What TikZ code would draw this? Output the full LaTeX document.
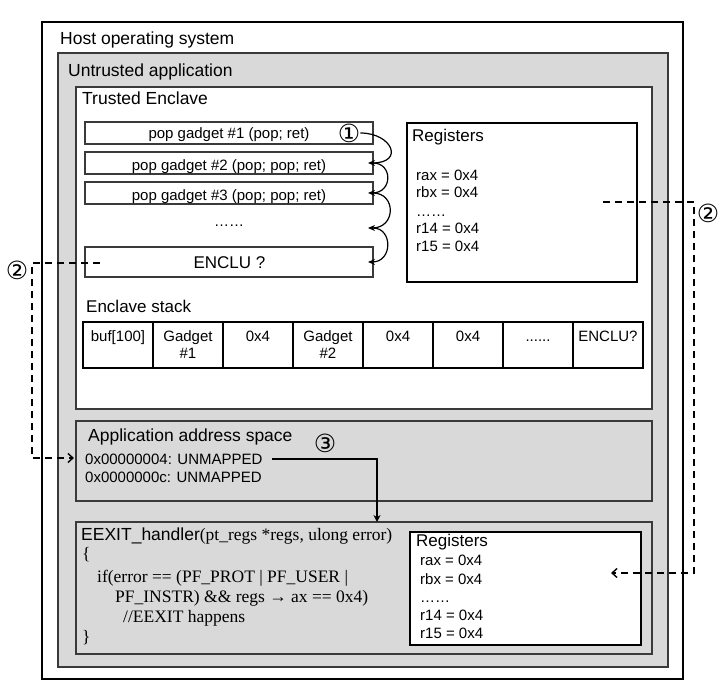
\documentclass[tikz,border=0pt]{standalone}
\usepackage{fontspec}
\setmainfont{Liberation Sans}
\newfontfamily\serifcode{Liberation Serif}
\newfontfamily\circfont{DejaVu Sans}
\usetikzlibrary{arrows.meta}
\definecolor{boxgray}{HTML}{D9D9D9}
\definecolor{edgegray}{HTML}{3A3A3A}
\tikzset{
  frame/.style={draw=black, line width=1.2pt, inner sep=0, outer sep=0, anchor=north west},
  grayframe/.style={frame, fill=boxgray, draw=edgegray, line width=1.8pt},
  whiteframe/.style={frame, fill=white, draw=edgegray, line width=1.3pt},
  big/.style={font=\fontsize{17.5}{21}\selectfont, inner sep=0, anchor=base west},
  small/.style={font=\fontsize{15}{17}\selectfont, inner sep=0, anchor=base west},
  code/.style={font=\serifcode\fontsize{17.5}{21}\selectfont, inner sep=0, anchor=base west},
  circ/.style={font=\circfont\fontsize{25}{27}\selectfont, inner sep=0},
  gadget/.style={draw=edgegray, line width=1.1pt, fill=white, minimum width=288pt, minimum height=22pt, anchor=north west, inner sep=0, outer sep=0},
  cell/.style={draw=black, line width=1.1pt, minimum width=70pt, minimum height=46pt, anchor=north west, inner sep=0, outer sep=0},
  dashline/.style={dash pattern=on 7pt off 5pt, line width=1.4pt},
  barb/.style={-{Straight Barb[length=5pt,width=9pt,line width=1.4pt]}},
  chain/.style={line width=1.2pt, -{Stealth[length=7pt,width=6pt]}, shorten >=-5pt},
}
\begin{document}
\begin{tikzpicture}[x=1pt,y=-1pt]
\useasboundingbox (0,0) rectangle (724,692);
% main frames
\node[frame, minimum width=641pt, minimum height=657pt] (host) at (42,22) {};
\node[big] (hostt) at (60,45) {Host operating system};
\node[grayframe, minimum width=610pt, minimum height=614pt] (untr) at (58,53) {};
\node[big] (untrt) at (68,77) {Untrusted application};
\node[whiteframe, minimum width=576pt, minimum height=322pt] (encl) at (76,87) {};
\node[big] (enclt) at (82,105) {Trusted Enclave};
% gadgets
\node[gadget] (g1) at (85,122) {};
\node[gadget] (g2) at (85,152) {};
\node[gadget] (g3) at (85,182) {};
\node[gadget, minimum height=30pt] (enclu) at (85,247) {};
\node[small, anchor=base] (g1t) at (229,139) {pop gadget \#1 (pop; ret)};
\node[small, anchor=base] (g2t) at (229,171) {pop gadget \#2 (pop; pop; ret)};
\node[small, anchor=base] (g3t) at (229,201) {pop gadget \#3 (pop; pop; ret)};
\node[small, anchor=base] (dots) at (229,227) {……};
\coordinate (dotsR) at (373,228);
\node[big, font=\fontsize{17}{20}\selectfont, anchor=base] (enclut) at (229.5,269) {ENCLU ?};
\node[circ] (c1) at (349,133) {①};
% chain arrows
\draw[chain] (c1.east) to[out=0,in=0,looseness=2.5] (g2.east);
\draw[chain] (g2.east) to[out=0,in=0,looseness=1.7] (g3.east);
\draw[chain] (g3.east) to[out=0,in=0,looseness=1.7] (dotsR);
\draw[chain] (dotsR) to[out=0,in=0,looseness=1.5] (enclu.east);
% registers in enclave
\node[whiteframe, draw=black, line width=1.2pt, minimum width=230pt, minimum height=159pt] (reg1) at (407,123) {};
\node[big, font=\fontsize{17}{20}\selectfont] (reg1t) at (412,142) {Registers};
\node[small] (r1a) at (416,181) {rax = 0x4};
\node[small] (r1b) at (416,198) {rbx = 0x4};
\node[small] (r1c) at (416,217) {……};
\node[small] (r1d) at (416,234) {r14 = 0x4};
\node[small] (r1e) at (416,252) {r15 = 0x4};
% enclave stack
\node[big, font=\fontsize{17}{20}\selectfont] (stackt) at (86,313) {Enclave stack};
\foreach \i in {0,...,7} {\node[cell] (s\i) at (83+70*\i,322) {};}
\node[small, anchor=base] at (s0.center |- 0,342) {buf[100]};
\node[small, anchor=base, align=center] at (s1.center |- 0,359) {Gadget\\\#1};
\node[small, anchor=base] at (s2.center |- 0,342) {0x4};
\node[small, anchor=base, align=center] at (s3.center |- 0,359) {Gadget\\\#2};
\node[small, anchor=base] at (s4.center |- 0,342) {0x4};
\node[small, anchor=base] at (s5.center |- 0,342) {0x4};
\node[small, anchor=base] at (s6.center |- 0,342) {......};
\node[small, anchor=base] at (s7.center |- 0,342) {ENCLU?};
% application address space
\node[grayframe, line width=1.5pt, minimum width=576pt, minimum height=80pt] (app) at (76,421) {};
\node[big] (appt) at (88,442) {Application address space};
\node[circ] (c3) at (325,443) {③};
\node[small] (m1) at (85,465) {0x00000004: UNMAPPED};
\node[small] (m2) at (85,483) {0x0000000c: UNMAPPED};
% handler
\node[grayframe, line width=1.5pt, minimum width=576pt, minimum height=132pt] (hand) at (76,522) {};
\node[big, inner sep=0] (h1) at (81,541) {EEXIT\_handler{\serifcode(pt\_regs *regs, ulong error)}};
\node[code] (h2) at (82,560) {\{};
\node[code] (h3) at (97,583) {if(error == (PF\_PROT | PF\_USER |};
\node[code] (h4) at (115,603) {PF\_INSTR) \&\& regs → ax == 0x4)};
\node[code] (h5) at (123,623) {//EEXIT happens};
\node[code] (h6) at (82,643) {\}};
\node[whiteframe, draw=black, line width=1.3pt, minimum width=231pt, minimum height=113pt] (reg2) at (410,532) {};
\node[big, font=\fontsize{17}{20}\selectfont] (reg2t) at (416,547) {Registers};
\node[small] (r2a) at (420,566) {rax = 0x4};
\node[small] (r2b) at (420,585) {rbx = 0x4};
\node[small] (r2c) at (420,603) {……};
\node[small] (r2d) at (420,621) {r14 = 0x4};
\node[small] (r2e) at (420,639) {r15 = 0x4};
% connectors
\coordinate (d1s) at (100,263);
\coordinate (d1a) at (32,263);
\coordinate (d1e) at (74,458);
\draw[dashline, barb] (d1s) -- (d1a) |- (d1e);
\node[circ] (c2l) at (17,270) {②};
\coordinate (d2s) at (603,202);
\coordinate (d2a) at (694,202);
\coordinate (d2e) at (611,573);
\draw[dashline, barb] (d2s) -- (d2a) |- (d2e);
\node[circ] (c2r) at (708,213) {②};
\coordinate (m1e) at (272,459);
\draw[line width=1.4pt, -{Stealth[length=7pt,width=7pt]}] (m1e) -| (hand.north -| 377,0);
\end{tikzpicture}
\end{document}
